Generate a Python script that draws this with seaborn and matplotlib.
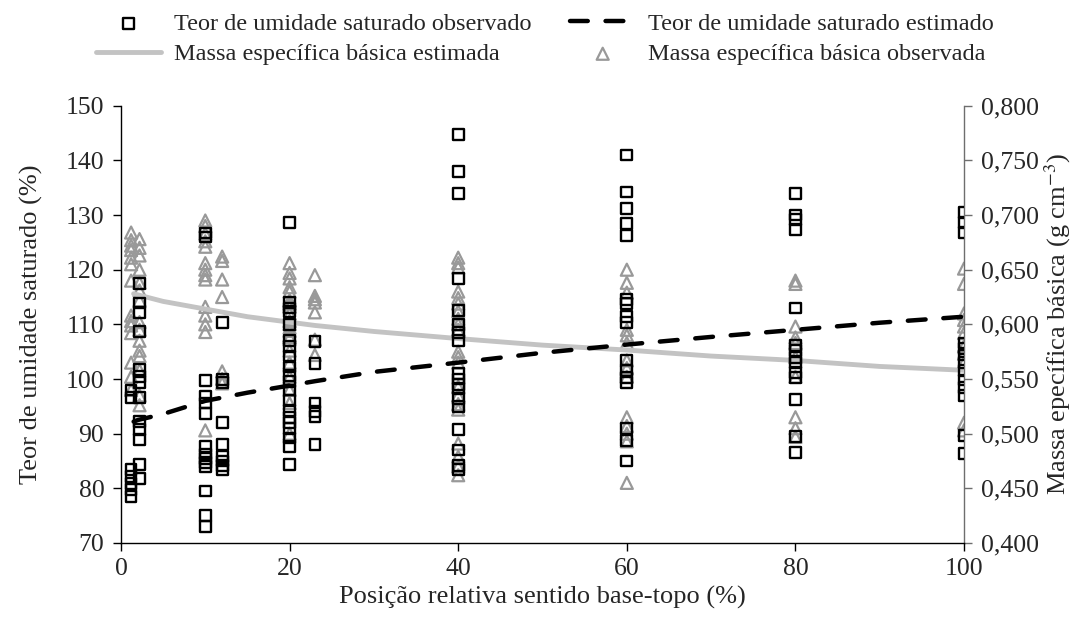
import numpy as np
import pandas as pd
import matplotlib
matplotlib.use("Agg")
import matplotlib.pyplot as plt
import seaborn as sns

# ---------------- data ----------------
# Teor de umidade saturado observado (%), by relative position (%)
teor_obs = {
    1.2: [98.0, 96.6, 83.4, 82.2, 80.9, 79.8, 78.5],
    2.2: [117.5, 113.9, 112.1, 108.7, 101.7, 100.5, 99.3, 96.6, 92.2, 90.7, 88.9, 84.3, 81.8],
    10: [126.7, 126.0, 99.7, 96.9, 95.6, 93.7, 87.6, 86.3, 85.5, 84.7, 84.0, 79.5, 75.0, 73.0],
    12: [110.3, 99.9, 99.3, 92.0, 88.0, 85.8, 85.0, 84.2, 83.5],
    20: [128.7, 114.0, 113.0, 112.3, 110.0, 107.0, 106.0, 104.2, 102.2, 100.6, 99.6, 98.0,
         96.0, 94.2, 93.0, 92.0, 91.0, 89.2, 87.6, 84.4],
    23: [106.9, 102.9, 95.6, 94.1, 93.2, 88.0],
    40: [144.8, 138.0, 134.0, 118.4, 112.5, 110.0, 108.5, 107.0, 101.0, 100.0, 99.0, 98.2,
         96.5, 95.0, 90.8, 87.0, 84.2, 83.4],
    60: [141.0, 134.2, 131.2, 128.5, 126.3, 114.6, 113.8, 111.5, 110.3, 103.5, 101.5, 100.3,
         99.4, 91.0, 88.8, 85.0],
    80: [134.0, 130.0, 129.2, 127.3, 113.0, 106.2, 105.2, 104.0, 103.0, 101.2, 100.3, 96.2,
         89.5, 86.6],
    100: [130.4, 128.6, 126.8, 106.6, 105.6, 104.4, 103.0, 101.6, 99.8, 98.4, 97.0, 89.6, 86.4],
}

# Massa especifica basica observada (g cm-3)
massa_obs = {
    1.2: [0.684, 0.677, 0.672, 0.668, 0.661, 0.655, 0.640, 0.608, 0.603, 0.599, 0.592,
          0.565, 0.552, 0.540],
    2.2: [0.678, 0.670, 0.663, 0.650, 0.638, 0.631, 0.622, 0.602, 0.595, 0.585, 0.576,
          0.571, 0.558, 0.535, 0.526],
    10: [0.695, 0.690, 0.683, 0.676, 0.671, 0.656, 0.650, 0.645, 0.641, 0.616, 0.608,
         0.600, 0.593, 0.503],
    12: [0.662, 0.658, 0.641, 0.625, 0.557, 0.550, 0.546],
    20: [0.656, 0.647, 0.642, 0.634, 0.630, 0.622, 0.619, 0.616, 0.610, 0.603, 0.600,
         0.597, 0.594, 0.590, 0.588, 0.576, 0.565, 0.552, 0.540, 0.528, 0.500],
    23: [0.645, 0.626, 0.623, 0.620, 0.611, 0.586, 0.572],
    40: [0.661, 0.656, 0.652, 0.630, 0.624, 0.619, 0.612, 0.605, 0.600, 0.595, 0.575,
         0.570, 0.565, 0.543, 0.535, 0.527, 0.522, 0.491, 0.479, 0.470, 0.462],
    60: [0.650, 0.638, 0.629, 0.595, 0.590, 0.583, 0.567, 0.560, 0.552, 0.515, 0.507,
         0.500, 0.493, 0.455],
    80: [0.640, 0.637, 0.598, 0.588, 0.583, 0.570, 0.552, 0.515, 0.505, 0.497],
    100: [0.651, 0.637, 0.610, 0.604, 0.598, 0.592, 0.580, 0.573, 0.565, 0.510, 0.503],
}

# Estimated curves
curve_x = [1.5, 2, 5, 10, 15, 20, 23, 30, 40, 50, 60, 70, 80, 90, 100]
teor_est = [92.2, 92.5, 93.6, 96.0, 97.5, 98.8, 99.6, 101.3, 103.0, 104.8, 106.3, 107.7,
            109.0, 110.3, 111.4]
massa_est = [0.628, 0.627, 0.621, 0.614, 0.607, 0.602, 0.599, 0.5935, 0.587, 0.581,
             0.5765, 0.571, 0.567, 0.5615, 0.558]

x_ticks = [0, 20, 40, 60, 80, 100]
left_ticks = [70, 80, 90, 100, 110, 120, 130, 140, 150]
right_ticks = [0.400, 0.450, 0.500, 0.550, 0.600, 0.650, 0.700, 0.750, 0.800]

lab_teor_obs = "Teor de umidade saturado observado"
lab_teor_est = "Teor de umidade saturado estimado"
lab_massa_est = "Massa específica básica estimada"
lab_massa_obs = "Massa específica básica observada"
xlabel = "Posição relativa sentido base-topo (%)"
ylabel_left = "Teor de umidade saturado (%)"
ylabel_right = "Massa epecífica básica (g cm$^{-3}$)"

# ---------------- frames ----------------
df_teor = pd.DataFrame([(k, v) for k, vals in teor_obs.items() for v in vals], columns=["x", "y"])
df_massa = pd.DataFrame([(k, v) for k, vals in massa_obs.items() for v in vals], columns=["x", "y"])
df_curve = pd.DataFrame({"x": curve_x, "teor": teor_est, "massa": massa_est})

# ---------------- plot ----------------
sns.set_theme(style="white")
plt.rcParams["font.family"] = ["Liberation Serif", "DejaVu Serif"]
plt.rcParams["mathtext.fontset"] = "stix"

fig = plt.figure(figsize=(10.86, 6.19), dpi=100)
ax = fig.add_axes([0.1114, 0.1228, 0.7763, 0.7064])
ax2 = ax.twinx()

tri_color = "#999999"
sns.scatterplot(data=df_massa, x="x", y="y", ax=ax2, marker="^", s=75,
                facecolor="none", edgecolor=tri_color, linewidth=1.6,
                label=lab_massa_obs, zorder=2)
sns.scatterplot(data=df_teor, x="x", y="y", ax=ax, marker="s", s=60,
                facecolor="none", edgecolor="black", linewidth=1.7,
                label=lab_teor_obs, zorder=3)
sns.lineplot(data=df_curve, x="x", y="massa", ax=ax2, color="#c3c3c3", linewidth=3.5,
             label=lab_massa_est, zorder=4)
sns.lineplot(data=df_curve, x="x", y="teor", ax=ax, color="black", linewidth=3.2,
             dashes=False, label=lab_teor_est, zorder=5)
ax.lines[-1].set_dashes([4.0, 4.0])
ax.lines[-1].set_dash_capstyle("round")

ax.set_zorder(ax2.get_zorder() + 1)
ax.patch.set_visible(False)

for a in (ax, ax2):
    if a.get_legend() is not None:
        a.get_legend().remove()

ax.set_xlim(0, 100)
ax.set_ylim(70, 150)
ax2.set_ylim(0.4, 0.8)
ax.set_xticks(x_ticks)
ax.set_yticks(left_ticks)
ax2.set_yticks(right_ticks)
ax2.set_yticklabels([f"{t:.3f}".replace(".", ",") for t in right_ticks])

ax.set_xlabel(xlabel, fontsize=19, labelpad=4)
ax.set_ylabel(ylabel_left, fontsize=19, labelpad=16)
ax2.set_ylabel(ylabel_right, fontsize=19, labelpad=3)

ax.tick_params(axis="both", labelsize=18.5, direction="out", length=6, width=1.0,
               color="black", pad=6)
ax.tick_params(axis="y", left=True, right=False)
ax.tick_params(axis="x", bottom=True, pad=5)
ax2.tick_params(axis="y", labelsize=18.5, direction="out", length=6, width=1.0,
                color="#6e6e6e", right=True, pad=6)

for a in (ax, ax2):
    a.spines["top"].set_visible(False)
ax.spines["right"].set_visible(False)
ax2.spines["left"].set_visible(False)
ax2.spines["bottom"].set_visible(False)
ax.spines["left"].set_color("black")
ax.spines["bottom"].set_color("black")
ax2.spines["right"].set_color("#6e6e6e")
for s in ("left", "bottom"):
    ax.spines[s].set_linewidth(1.0)
ax2.spines["right"].set_linewidth(1.0)

h1, l1 = ax.get_legend_handles_labels()
h2, l2 = ax2.get_legend_handles_labels()
hd = dict(zip(l1 + l2, h1 + h2))
order = [lab_teor_obs, lab_massa_est, lab_teor_est, lab_massa_obs]
leg = fig.legend([hd[k] for k in order], order, ncol=2, loc="upper left",
                 bbox_to_anchor=(0.068, 1.015), frameon=False, fontsize=17.5,
                 handlelength=2.7, columnspacing=1.6, handletextpad=0.5,
                 labelspacing=0.35)

fig.savefig("out.png", dpi=100)
